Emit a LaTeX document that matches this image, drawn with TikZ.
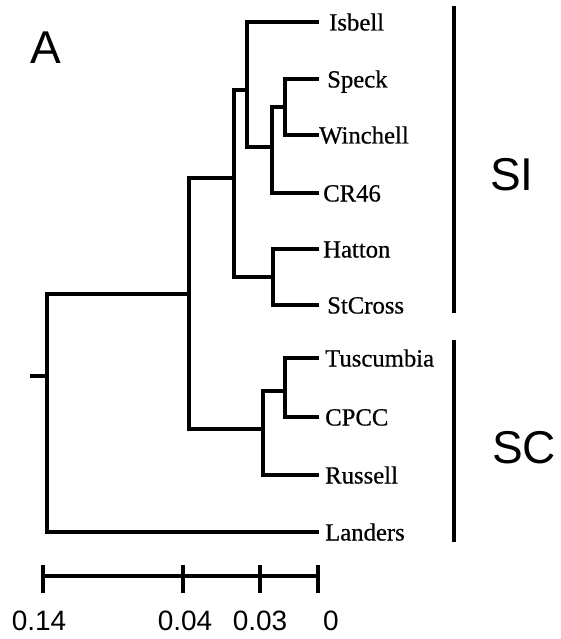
\documentclass[tikz,border=0pt]{standalone}
\usepackage{fontspec}
\setmainfont{Liberation Serif}
\newfontfamily\leaff[FakeBold=0.6]{Liberation Serif}
\newfontfamily\arialf{Liberation Sans}
\begin{document}
\begin{tikzpicture}[x=1pt,y=-1pt,
  br/.style={line width=3.3pt,line cap=rect},
  bar/.style={line width=3.5pt},
  leaf/.style={anchor=base west,inner sep=0pt,font=\leaff\fontsize{24.7}{28}\selectfont},
  big/.style={anchor=base west,inner sep=0pt,font=\arialf\fontsize{46}{50}\selectfont},
  num/.style={anchor=base,inner sep=0pt,font=\arialf\fontsize{28}{32}\selectfont}]
\useasboundingbox (0,0) rectangle (560,639);
% internal nodes
\coordinate (stub) at (32,376);
\coordinate (r) at (47,376);
\coordinate (rT) at (47,294);
\coordinate (rB) at (47,532);
\coordinate (n1T) at (189,294);
\coordinate (n1a) at (189,178);
\coordinate (n1b) at (189,429);
\coordinate (n2) at (234,178);
\coordinate (n2a) at (234,90);
\coordinate (n2b) at (234,277);
\coordinate (n3) at (247,90);
\coordinate (n3a) at (247,22);
\coordinate (n3b) at (247,147);
\coordinate (n4) at (272,147);
\coordinate (n4a) at (272,107);
\coordinate (n4b) at (272,193);
\coordinate (n5) at (285,107);
\coordinate (n5a) at (285,79);
\coordinate (n5b) at (285,135);
\coordinate (n6) at (273,277);
\coordinate (n6a) at (273,249);
\coordinate (n6b) at (273,305);
\coordinate (n7) at (263,429);
\coordinate (n7a) at (263,391);
\coordinate (n7b) at (263,475);
\coordinate (n8) at (285,391);
\coordinate (n8a) at (285,358);
\coordinate (n8b) at (285,417);
% leaf ends
\coordinate (lIs) at (317,22);
\coordinate (lSp) at (317,79);
\coordinate (lWi) at (317,135);
\coordinate (lCR) at (317,193);
\coordinate (lHa) at (317,249);
\coordinate (lSt) at (317,305);
\coordinate (lTu) at (317,358);
\coordinate (lCP) at (317,417);
\coordinate (lRu) at (317,475);
\coordinate (lLa) at (317,532);
% tree
\draw[br] (stub) -- (r);
\draw[br] (rT) -- (rB);
\draw[br] (rT) -- (n1T);
\draw[br] (n1a) -- (n1b);
\draw[br] (n1a) -- (n2);
\draw[br] (n2a) -- (n2b);
\draw[br] (n2a) -- (n3);
\draw[br] (n3a) -- (n3b);
\draw[br] (n3a) -- (lIs);
\draw[br] (n3b) -- (n4);
\draw[br] (n4a) -- (n4b);
\draw[br] (n4a) -- (n5);
\draw[br] (n5a) -- (n5b);
\draw[br] (n5a) -- (lSp);
\draw[br] (n5b) -- (lWi);
\draw[br] (n4b) -- (lCR);
\draw[br] (n2b) -- (n6);
\draw[br] (n6a) -- (n6b);
\draw[br] (n6a) -- (lHa);
\draw[br] (n6b) -- (lSt);
\draw[br] (n1b) -- (n7);
\draw[br] (n7a) -- (n7b);
\draw[br] (n7a) -- (n8);
\draw[br] (n8a) -- (n8b);
\draw[br] (n8a) -- (lTu);
\draw[br] (n8b) -- (lCP);
\draw[br] (n7b) -- (lRu);
\draw[br] (rB) -- (lLa);
% labels
\node[leaf] (tIs) at (329,30.5) {Isbell};
\node[leaf] (tSp) at (327,87.5) {Speck};
\node[leaf] (tWi) at (319,143.5) {Winchell};
\node[leaf] (tCR) at (323,201.5) {CR46};
\node[leaf] (tHa) at (323,257.5) {Hatton};
\node[leaf] (tSt) at (327,313.5) {StCross};
\node[leaf] (tTu) at (325,366.5) {Tuscumbia};
\node[leaf] (tCP) at (325,425.5) {CPCC};
\node[leaf] (tRu) at (325,483.5) {Russell};
\node[leaf] (tLa) at (325,540.5) {Landers};
% group bars
\coordinate (siT) at (454,6);
\coordinate (siB) at (454,313);
\coordinate (scT) at (454,340);
\coordinate (scB) at (454,542);
\draw[bar] (siT) -- (siB);
\draw[bar] (scT) -- (scB);
\node[big] (SI) at (490,190) {SI};
\node[big] (SC) at (492,463) {SC};
\node[big] (A) at (30,64) {A};
% scale bar
\coordinate (s0) at (43,576);
\coordinate (s1) at (183,576);
\coordinate (s2) at (260,576);
\coordinate (s3) at (318,576);
\draw[bar] (s0) -- (s3);
\foreach \p in {s0,s1,s2,s3}{
  \draw[bar] ([yshift=-17pt]\p) -- ([yshift=11pt]\p);
}
\node[num] (v0) at (39,630) {0.14};
\node[num] (v1) at (185,630) {0.04};
\node[num] (v2) at (260,630) {0.03};
\node[num] (v3) at (331,630) {0};
\end{tikzpicture}
\end{document}
